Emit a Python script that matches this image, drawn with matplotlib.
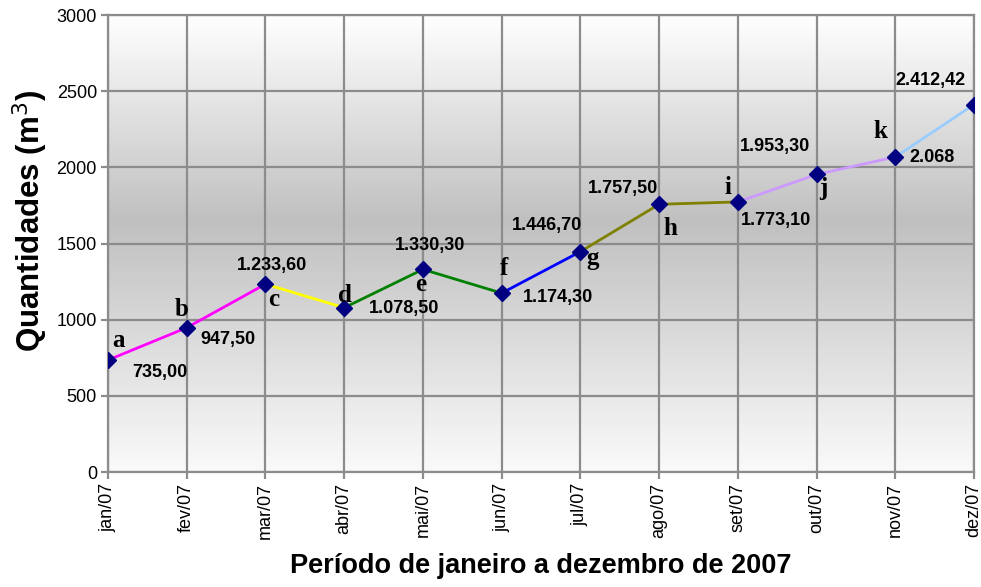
import numpy as np
import matplotlib.pyplot as plt
from matplotlib.colors import LinearSegmentedColormap

# dados
meses = ['jan/07', 'fev/07', 'mar/07', 'abr/07', 'mai/07', 'jun/07',
         'jul/07', 'ago/07', 'set/07', 'out/07', 'nov/07', 'dez/07']
valores = [735.00, 947.50, 1233.60, 1078.50, 1330.30, 1174.30,
           1446.70, 1757.50, 1773.10, 1953.30, 2068.00, 2412.42]
rotulos = ['735,00', '947,50', '1.233,60', '1.078,50', '1.330,30', '1.174,30',
           '1.446,70', '1.757,50', '1.773,10', '1.953,30', '2.068', '2.412,42']
letras = ['a', 'b', 'c', 'd', 'e', 'f', 'g', 'h', 'i', 'j', 'k', 'l']

# cor de cada trecho (do ponto i ao ponto i+1)
cores = ['#ff00ff', '#ff00ff', '#ffff00', '#008000', '#008000', '#0000ff',
         '#808000', '#808000', '#cc99ff', '#cc99ff', '#99ccff']

# deslocamento dos textos (pixels) em relacao ao ponto
desl_valor = [(52, -12), (41, -12), (7, 19), (60, -1), (7, 24), (56, -4),
              (-33, 26), (-36, 16), (38, -19), (-42, 28), (37, -1), (-44, 24)]
desl_letra = [(10, 20), (-5, 18), (8, -15), (1, 12), (-2, -15), (2, 25),
              (12, -7), (11, -24), (-10, 14), (7, -14), (-15, 25), (16, -15)]

fig = plt.figure(figsize=(9.81, 5.87), dpi=100)
ax = fig.add_axes([0.1101, 0.1959, 0.8828, 0.7785])

x = np.arange(len(meses))

# fundo em degrade
grad = LinearSegmentedColormap.from_list('fundo', [(0, '#fafafa'), (0.55, '#c0c0c0'), (1, '#ffffff')])
g = np.linspace(0, 1, 256).reshape(-1, 1)
ax.imshow(g, cmap=grad, aspect='auto', extent=[0, 11, 0, 3000], origin='lower', zorder=0)

for i in range(len(x) - 1):
    ax.plot(x[i:i + 2], valores[i:i + 2], color=cores[i], lw=2, zorder=3)
ax.plot(x, valores, ls='none', marker='D', ms=8.5, color='#000080', zorder=4)

for i in range(len(x)):
    ax.annotate(rotulos[i], (x[i], valores[i]), xytext=desl_valor[i], textcoords='offset pixels',
                ha='center', va='center', fontsize=13, fontweight='bold',
                family='Liberation Sans', zorder=5)
    ax.annotate(letras[i], (x[i], valores[i]), xytext=desl_letra[i], textcoords='offset pixels',
                ha='center', va='center', fontsize=18, fontweight='bold',
                family='Liberation Serif', zorder=5, annotation_clip=False)

ax.set_xlim(0, 11)
ax.set_ylim(0, 3000)
ax.set_xticks(x)
ax.set_xticklabels(meses, rotation=90, fontsize=13, family='Liberation Sans')
ax.set_yticks(range(0, 3001, 500))
ax.set_yticklabels([str(v) for v in range(0, 3001, 500)], fontsize=13, family='Liberation Sans')
ax.grid(True, color='#8c8c8c', lw=1.6, zorder=1)
ax.set_axisbelow(False)
for s in ax.spines.values():
    s.set_color('#8c8c8c')
    s.set_linewidth(1.6)
ax.tick_params(color='#8c8c8c', width=1.6, length=5, pad=3)

ax.set_xlabel('Período de janeiro a dezembro de 2007', fontsize=19.5, fontweight='bold',
              family='Liberation Sans', labelpad=10)
ax.set_ylabel('Quantidades (m$^3$)', fontsize=22.5, fontweight='bold',
              family='Liberation Sans', va='center')
ax.yaxis.set_label_coords(-0.09, 0.55)

fig.savefig('out.png', dpi=100)
